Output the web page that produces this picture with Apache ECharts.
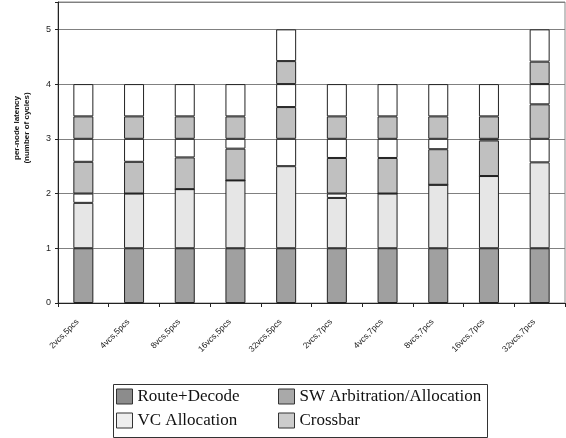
<!DOCTYPE html>
<html>
<head>
<meta charset="utf-8">
<script src="https://cdn.jsdelivr.net/npm/echarts@6/dist/echarts.min.js"></script>
<style>
html,body{margin:0;padding:0;background:#fff;}
#chart{width:566px;height:438px;}
</style>
</head>
<body>
<div id="chart"></div>
<script>
var categories = ['2vcs,5pcs','4vcs,5pcs','8vcs,5pcs','16vcs,5pcs','32vcs,5pcs','2vcs,7pcs','4vcs,7pcs','8vcs,7pcs','16vcs,7pcs','32vcs,7pcs'];
var routeDecode = [1, 1, 1, 1, 1, 1, 1, 1, 1, 1];
var vcAllocation = [0.83, 1.0, 1.08, 1.24, 1.5, 0.92, 1.0, 1.16, 1.32, 1.57];
var vcIdle = [0.17, 0, 0, 0, 0.5, 0.08, 0, 0, 0, 0.43];
var swArbitration = [0.58, 0.58, 0.58, 0.58, 0.58, 0.65, 0.65, 0.65, 0.65, 0.63];
var swIdle = [0.42, 0.42, 0.34, 0.18, 0.42, 0.35, 0.35, 0.19, 0.03, 0.37];
var crossbar = [0.41, 0.41, 0.41, 0.41, 0.42, 0.41, 0.41, 0.41, 0.41, 0.41];
var crossbarIdle = [0.59, 0.59, 0.59, 0.59, 0.58, 0.59, 0.59, 0.59, 0.59, 0.59];
var yTicks = [0, 1, 2, 3, 4, 5];

var chart = echarts.init(document.getElementById('chart'));
var border = {borderColor: '#222', borderWidth: 1};
function seg(name, data, color) {
  return {
    name: name, type: 'bar', stack: 'lat', data: data, barWidth: 20,
    itemStyle: Object.assign({color: color}, border),
    emphasis: {disabled: true}, animation: false
  };
}
var legendText = {fontFamily: 'Liberation Serif', fontSize: 17, color: '#111'};
var legendIcon = {borderColor: '#333', borderWidth: 1};
chart.setOption({
  animation: false,
  grid: {left: 58, right: 1, top: 2, bottom: 135, show: true, borderColor: '#888', borderWidth: 1},
  xAxis: {
    type: 'category', data: categories,
    axisLine: {lineStyle: {color: '#222', width: 1}},
    axisTick: {show: true, length: 4, lineStyle: {color: '#222'}},
    axisLabel: {rotate: 45, margin: 12, padding: [0, 8, 0, 0], fontFamily: 'Liberation Sans', fontSize: 8.5, color: '#222'}
  },
  yAxis: {
    type: 'value', min: 0, max: 5.5, interval: 1,
    axisLine: {show: true, lineStyle: {color: '#222', width: 1}},
    axisTick: {show: true, length: 3, lineStyle: {color: '#222'}},
    splitLine: {show: true, lineStyle: {color: '#808080', width: 1}},
    axisLabel: {
      fontFamily: 'Liberation Sans', fontSize: 9, color: '#222', margin: 7,
      formatter: function (v) { return yTicks.indexOf(v) >= 0 ? String(v) : ''; }
    }
  },
  legend: [
    {
      orient: 'vertical', left: 116, top: 388, padding: 0, itemWidth: 16, itemHeight: 15, itemGap: 7,
      icon: 'rect', textStyle: legendText, selectedMode: false,
      data: [
        {name: 'Route+Decode', itemStyle: Object.assign({color: '#8c8c8c'}, legendIcon)},
        {name: 'VC Allocation', itemStyle: Object.assign({color: '#eeeeee'}, legendIcon)}
      ]
    },
    {
      orient: 'vertical', left: 278, top: 388, padding: 0, itemWidth: 16, itemHeight: 15, itemGap: 7,
      icon: 'rect', textStyle: legendText, selectedMode: false,
      data: [
        {name: 'SW Arbitration/Allocation', itemStyle: Object.assign({color: '#a9a9a9'}, legendIcon)},
        {name: 'Crossbar', itemStyle: Object.assign({color: '#cccccc'}, legendIcon)}
      ]
    }
  ],
  graphic: [
    {
      type: 'rect', left: 111, top: 382,
      shape: {width: 374, height: 53},
      style: {fill: 'none', stroke: '#333', lineWidth: 1}, silent: true
    },
    {
      type: 'text', x: 22, y: 128, rotation: Math.PI / 2,
      style: {
        text: 'per-node latency\n(number of cycles)', align: 'center', verticalAlign: 'middle',
        font: 'bold 8px "Liberation Sans"', fill: '#111', lineHeight: 10
      }, silent: true
    }
  ],
  series: [
    seg('Route+Decode', routeDecode, '#a0a0a0'),
    seg('VC Allocation', vcAllocation, '#e6e6e6'),
    seg('vcIdle', vcIdle, '#ffffff'),
    seg('SW Arbitration/Allocation', swArbitration, '#c0c0c0'),
    seg('swIdle', swIdle, '#ffffff'),
    seg('Crossbar', crossbar, '#c0c0c0'),
    seg('crossbarIdle', crossbarIdle, '#ffffff')
  ]
});
</script>
</body>
</html>
